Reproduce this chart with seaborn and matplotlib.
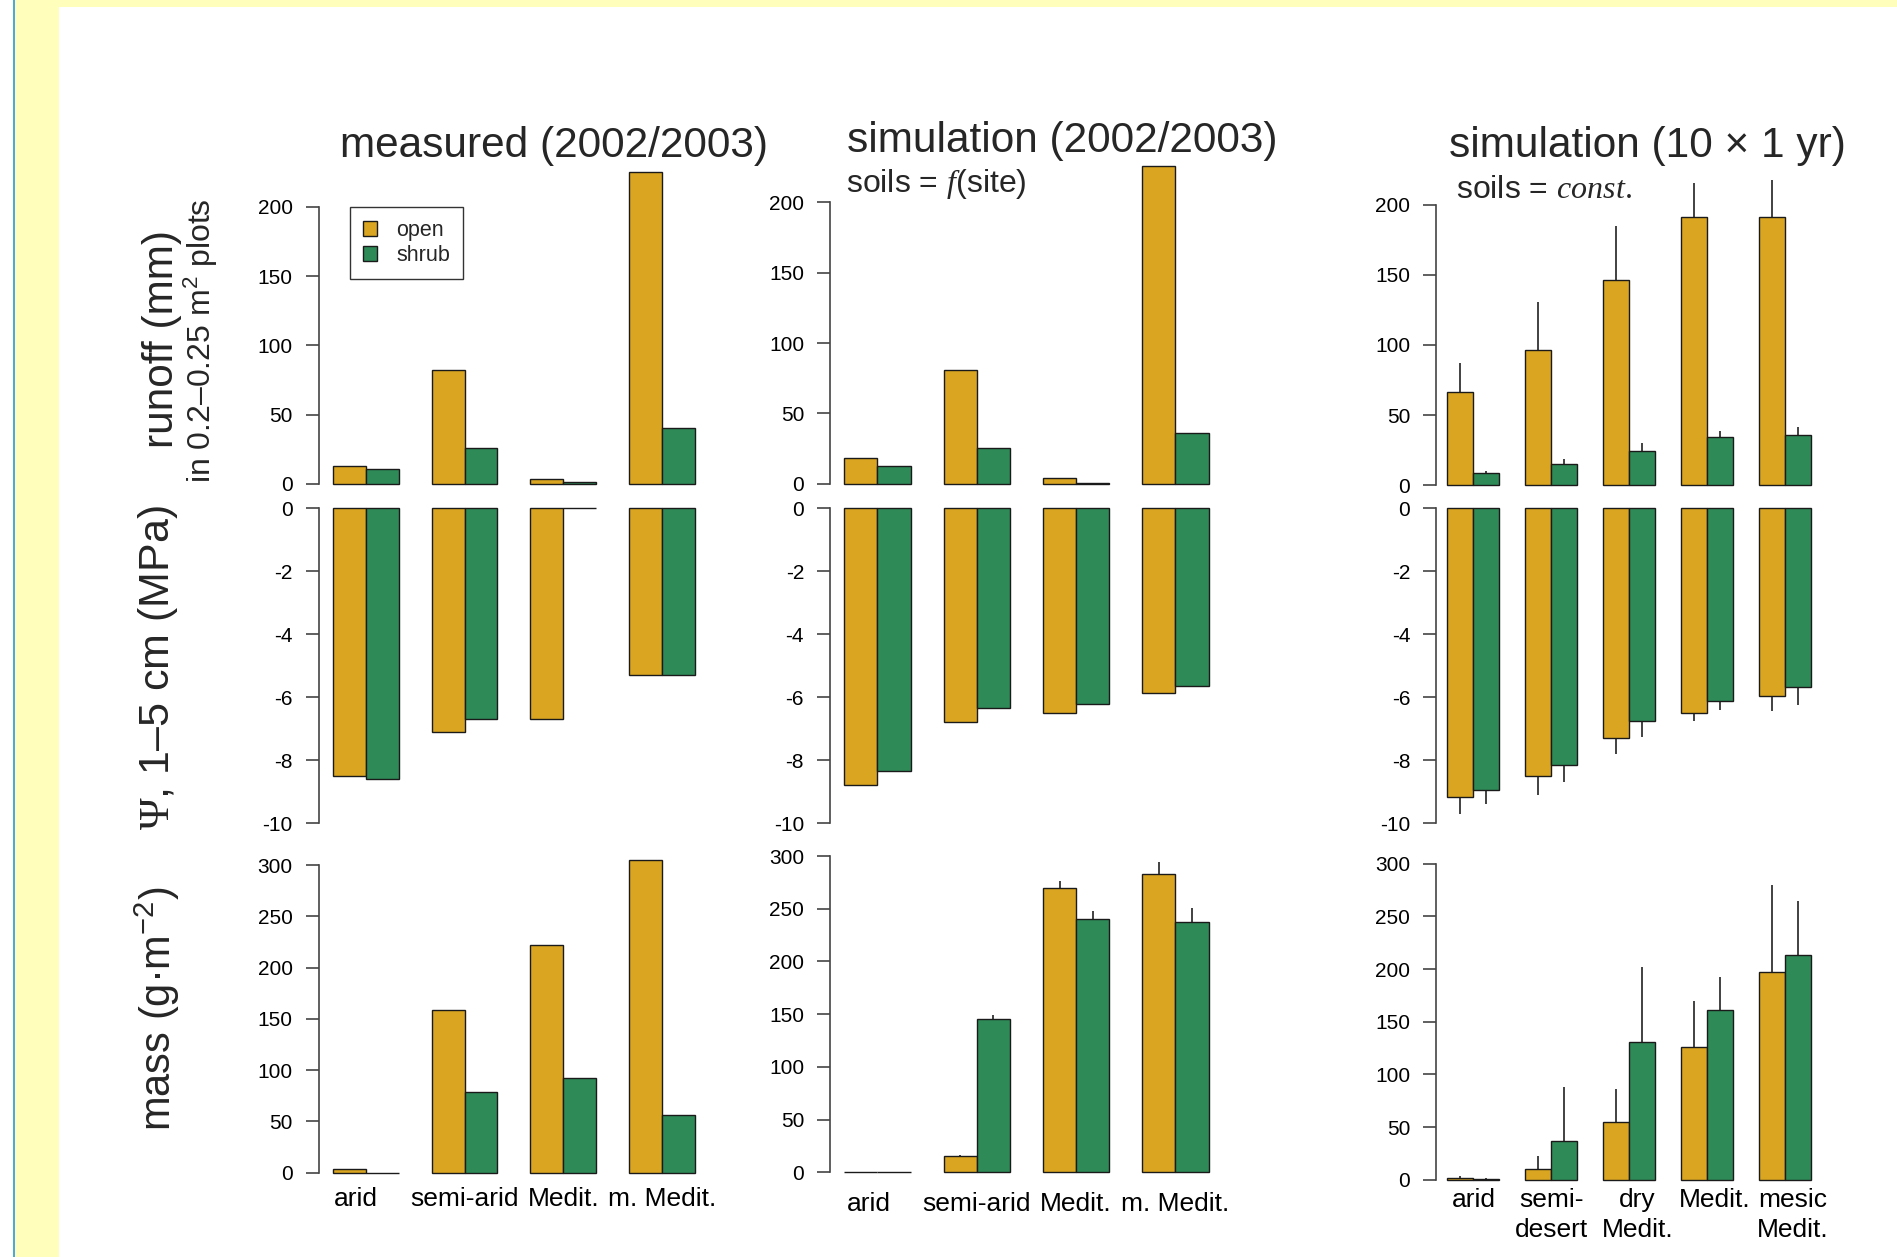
import numpy as np
import pandas as pd
import matplotlib
matplotlib.use("Agg")
import matplotlib.pyplot as plt
from matplotlib.patches import Rectangle
from matplotlib.transforms import ScaledTranslation
import seaborn as sns

# ---------------- data ----------------
sites_obs = ["arid", "semi-arid", "Medit.", "m. Medit."]
sites_10y = ["arid", "semi-\ndesert", "dry\nMedit.", "Medit.", "mesic\nMedit."]
covers = ["open", "shrub"]

# runoff (mm)
runoff_meas_open = [12.6, 82.0, 3.1, 225.6]
runoff_meas_shrub = [10.6, 25.8, 1.0, 40.0]
runoff_sim_open = [18.5, 80.6, 3.8, 226.0]
runoff_sim_shrub = [12.4, 25.2, 0.5, 36.0]
runoff_10y_open = [66.3, 96.4, 146.5, 191.4, 191.4]
runoff_10y_shrub = [8.5, 15.4, 24.2, 34.4, 35.6]
runoff_10y_open_err = [21.1, 34.5, 38.5, 24.3, 26.2]
runoff_10y_shrub_err = [1.9, 3.6, 5.7, 4.5, 6.2]

# soil water potential, 1-5 cm (MPa)
psi_meas_open = [-8.49, -7.11, -6.70, -5.31]
psi_meas_shrub = [-8.61, -6.70, 0.0, -5.31]
psi_sim_open = [-8.77, -6.78, -6.50, -5.86]
psi_sim_shrub = [-8.35, -6.33, -6.23, -5.63]
psi_10y_open = [-9.16, -8.51, -7.28, -6.49, -5.97]
psi_10y_shrub = [-8.93, -8.14, -6.74, -6.11, -5.69]
psi_10y_open_err = [0.54, 0.59, 0.53, 0.25, 0.48]
psi_10y_shrub_err = [0.45, 0.56, 0.51, 0.31, 0.56]

# biomass (g m-2)
mass_meas_open = [3.9, 158.6, 222.3, 304.9]
mass_meas_shrub = [0.0, 78.7, 92.7, 56.0]
mass_sim_open = [0.6, 15.8, 270.0, 283.0]
mass_sim_shrub = [0.6, 145.1, 240.6, 237.8]
mass_sim_open_err = [0.0, 0.5, 6.0, 11.4]
mass_sim_shrub_err = [0.0, 4.4, 7.3, 13.0]
mass_10y_open = [1.3, 10.4, 54.5, 126.3, 197.5]
mass_10y_shrub = [0.6, 37.1, 130.4, 161.1, 213.6]
mass_10y_open_err = [1.9, 12.4, 31.6, 43.4, 82.0]
mass_10y_shrub_err = [1.3, 50.6, 71.6, 31.3, 50.7]

runoff_ticks = [0, 50, 100, 150, 200]
psi_ticks = [0, -2, -4, -6, -8, -10]
mass_ticks = [0, 50, 100, 150, 200, 250, 300]

col_titles = ["measured (2002/2003)", "simulation (2002/2003)", "simulation (10 \u00d7 1 yr)"]

# ---------------- style ----------------
sns.set_style("ticks")
plt.rcParams["font.family"] = ["Liberation Sans", "DejaVu Sans"]
plt.rcParams["axes.unicode_minus"] = False
plt.rcParams["mathtext.fontset"] = "custom"
plt.rcParams["mathtext.rm"] = "Liberation Serif"
plt.rcParams["mathtext.it"] = "Liberation Serif:italic"
plt.rcParams["mathtext.sf"] = "Liberation Sans"

palette = {"open": "#DAA520", "shrub": "#2E8B57"}
AX_COL = "#444444"

W, H = 1897, 1257
fig = plt.figure(figsize=(W / 100, H / 100), dpi=100)
fig.patch.set_facecolor("white")

# page decoration
fig.patches.append(Rectangle((14.5 / W, 0), (59 - 14.5) / W, 1, transform=fig.transFigure,
                             facecolor="#FFFFBB", edgecolor="none", zorder=-10))
fig.patches.append(Rectangle((14.5 / W, 1 - 7 / H), 1, 7 / H, transform=fig.transFigure,
                             facecolor="#FFFFBB", edgecolor="none", zorder=-10))
fig.patches.append(Rectangle((12.8 / W, 0), 1.8 / W, 1, transform=fig.transFigure,
                             facecolor="#4FA8DC", edgecolor="none", zorder=-9))

cols_px = [(318.5, 709.3), (829.8, 1223.1), (1436.0, 1822.4)]


def add_panel(col, zero_px, ppu, ylim):
    x0, x1 = cols_px[col]
    bottom = zero_px - ylim[0] * ppu
    top = zero_px - ylim[1] * ppu
    ax = fig.add_axes([x0 / W, 1 - bottom / H, (x1 - x0) / W, (bottom - top) / H])
    ax.set_facecolor("none")
    return ax


def draw(ax, sites, open_vals, shrub_vals, ylim, ticks, open_err=None, shrub_err=None,
         xlabels=False, label_pad=6, label_shift=None):
    df = pd.DataFrame({
        "site": sites * 2,
        "cover": ["open"] * len(sites) + ["shrub"] * len(sites),
        "value": list(open_vals) + list(shrub_vals),
    })
    sns.barplot(data=df, x="site", y="value", hue="cover", order=sites, hue_order=covers,
                palette=palette, saturation=1, width=2 / 3, errorbar=None, legend=False,
                edgecolor="#1a1a1a", linewidth=1.0, ax=ax)
    # one-sided error bars (mean + sd) for simulated runs
    for cont, vals, errs in zip(ax.containers, [open_vals, shrub_vals], [open_err, shrub_err]):
        if errs is None:
            continue
        for p, v, e in zip(cont.patches, vals, errs):
            if e <= 0:
                continue
            xc = p.get_x() + p.get_width() / 2
            ax.vlines(xc, v, v + np.sign(v) * e, colors="#333333", linewidth=1.3, zorder=0.5)
    ax.set_xlim(-0.48, len(sites) - 1 + 0.48)
    ax.set_ylim(*ylim)
    ax.set_xlabel("")
    ax.set_ylabel("")
    for s in ["top", "right", "bottom"]:
        ax.spines[s].set_visible(False)
    ax.spines["left"].set_color(AX_COL)
    ax.spines["left"].set_linewidth(1.2)
    ax.spines["left"].set_bounds(min(ticks), max(ticks))
    ax.set_yticks(ticks)
    ax.set_yticklabels([str(t) for t in ticks])
    ax.tick_params(axis="y", direction="out", length=9.5, width=1.2, color=AX_COL,
                   labelsize=15, pad=9, labelcolor="black")
    if xlabels:
        ax.tick_params(axis="x", length=0, labelsize=19, pad=label_pad, labelcolor="black")
        for i, lbl in enumerate(ax.get_xticklabels()):
            lbl.set_linespacing(1.3)
            if label_shift is not None and label_shift[i]:
                lbl.set_transform(lbl.get_transform() +
                                  ScaledTranslation(label_shift[i] / 100, 0, fig.dpi_scale_trans))
    else:
        ax.tick_params(axis="x", length=0, labelbottom=False)
    return ax


# row 1: runoff
ax = add_panel(0, 483.7, 1.3835, (-3, 235))
draw(ax, sites_obs, runoff_meas_open, runoff_meas_shrub, (-3, 235), runoff_ticks)
leg = ax.legend(handles=list(ax.containers), labels=covers, loc="upper left",
                bbox_to_anchor=(349.6 / W, 1 - 207 / H), bbox_transform=fig.transFigure,
                frameon=True, fancybox=False, edgecolor="#333333", framealpha=1,
                fontsize=15.5, handlelength=0.68, handleheight=0.68, handletextpad=0.9,
                borderpad=0.6, labelspacing=0.2, borderaxespad=0)
leg.get_frame().set_linewidth(1.0)

ax = add_panel(1, 483.7, 1.4065, (-3, 235))
draw(ax, sites_obs, runoff_sim_open, runoff_sim_shrub, (-3, 235), runoff_ticks)

ax = add_panel(2, 485.3, 1.403, (-3, 222))
draw(ax, sites_10y, runoff_10y_open, runoff_10y_shrub, (-3, 222), runoff_ticks,
     runoff_10y_open_err, runoff_10y_shrub_err)

# row 2: water potential
for col, (o, s, oe, se) in enumerate([(psi_meas_open, psi_meas_shrub, None, None),
                                       (psi_sim_open, psi_sim_shrub, None, None),
                                       (psi_10y_open, psi_10y_shrub, psi_10y_open_err, psi_10y_shrub_err)]):
    ax = add_panel(col, 508.0, 31.53, (-10.3, 0.3))
    draw(ax, sites_10y if col == 2 else sites_obs, o, s, (-10.3, 0.3), psi_ticks, oe, se)

# row 3: biomass
ax = add_panel(0, 1172.7, 1.0256, (-3, 312))
draw(ax, sites_obs, mass_meas_open, mass_meas_shrub, (-3, 312), mass_ticks,
     xlabels=True, label_pad=8, label_shift=[-10, 0, 0, 0])
ax = add_panel(1, 1172.3, 1.0543, (-3, 302))
draw(ax, sites_obs, mass_sim_open, mass_sim_shrub, (-3, 302), mass_ticks,
     mass_sim_open_err, mass_sim_shrub_err, xlabels=True, label_pad=12,
     label_shift=[-9, 0, 0, 0])
ax = add_panel(2, 1179.7, 1.0533, (-3, 300))
draw(ax, sites_10y, mass_10y_open, mass_10y_shrub, (-3, 300), mass_ticks,
     mass_10y_open_err, mass_10y_shrub_err, xlabels=True, label_pad=4,
     label_shift=[0, 0, 8, 8, 8])


def ftext(x, y, s, **kw):
    fig.text(x / W, 1 - y / H, s, **kw)


# column titles
ftext(554, 156.7, col_titles[0], fontsize=30.5, ha="center", va="baseline")
ftext(1062, 152.0, col_titles[1], fontsize=30.5, ha="center", va="baseline")
ftext(1647, 157.0, col_titles[2], fontsize=30.5, ha="center", va="baseline")
ftext(846, 192.0, "soils = $f$(site)", fontsize=23, ha="left", va="baseline")
ftext(1456, 198.0, "soils = $const.$", fontsize=23, ha="left", va="baseline")

# row labels
ftext(162, 339, "runoff (mm)", fontsize=30.5, rotation=90, ha="center", va="center")
ftext(201, 341, "in 0.2\u20130.25 $\\mathsf{m^2}$ plots", fontsize=23, rotation=90,
      ha="center", va="center")
ftext(158, 668, "$\\Psi$, 1\u20135 cm (MPa)", fontsize=31, rotation=90, ha="center", va="center")
ftext(157, 1009, "mass (g\u00b7$\\mathsf{m^{-2}}$)", fontsize=30, rotation=90,
      ha="center", va="center")

fig.savefig("out.png", dpi=100)
